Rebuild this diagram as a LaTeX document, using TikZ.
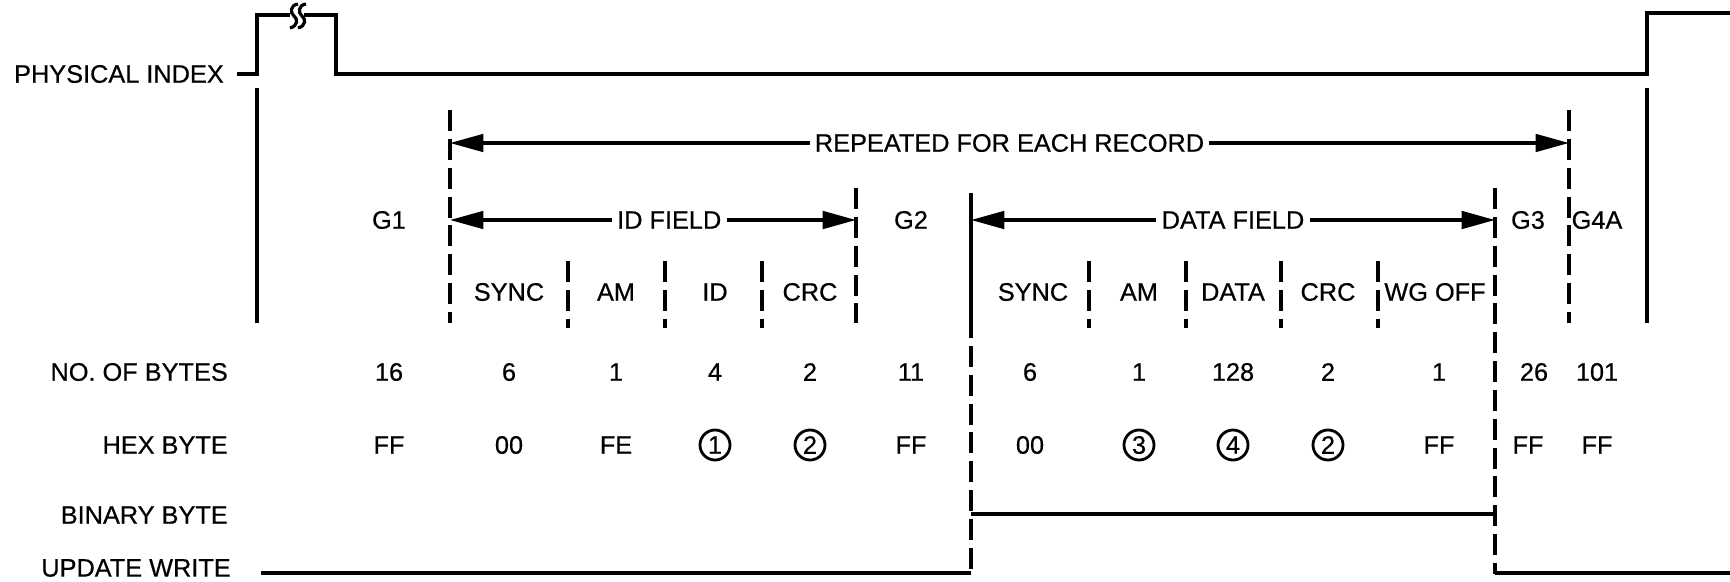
\documentclass[tikz,border=0pt]{standalone}
\usepackage{fontspec}
\setmainfont[FakeBold=0.5]{Liberation Sans}
\usetikzlibrary{arrows.meta,positioning}

\begin{document}
\begin{tikzpicture}[
  x=0.01cm,y=-0.01cm,
  every node/.style={font=\fontsize{7.2}{8.6}\selectfont,inner sep=1pt},
  wave/.style={line width=1.3pt},
  edge/.style={line width=1pt},
  fence/.style={line width=1pt,dash pattern=on 6pt off 2.2pt},
  span/.style={line width=0.9pt,{Triangle[length=9.5pt,width=5pt]}-{Triangle[length=9.5pt,width=5pt]}},
  gaplab/.style={fill=white,inner sep=1.5pt},
  rowlab/.style={anchor=east},
  ring/.style={draw,circle,line width=0.8pt,inner sep=0.5pt,minimum size=0.3cm}
]

\useasboundingbox (0,0) rectangle (1730,581);

% row names
\node[rowlab] (phys) at (228,74) {PHYSICAL INDEX};
\node[rowlab] (nbytes) at (232,372) {NO. OF BYTES};
\node[rowlab] (hex) at (232,445) {HEX BYTE};
\node[rowlab] (bin) at (232,515) {BINARY BYTE};
\node[rowlab] (upd) at (235,568) {UPDATE WRITE};

% physical index trace
\draw[wave] (237,74) -- (257,74) -- (257,15) -- (290,15)
  (304,15) -- (336,15) -- (336,74) -- (1647,74) -- (1647,13) -- (1730,13);
\draw[line width=0.9pt] (298,4) .. controls (290,5) and (290,13) .. (294,16)
  .. controls (298,19) and (298,26) .. (290,28);
\draw[line width=0.9pt] (306,4) .. controls (298,5) and (298,13) .. (302,16)
  .. controls (306,19) and (306,26) .. (298,28);

% index edges
\draw[edge] (257,88) -- (257,323);
\draw[edge] (1647,88) -- (1647,323);

% field boundaries
\draw[fence] (450,110) -- (450,323);
\draw[fence] (1569,110) -- (1569,323);
\draw[fence] (856,188) -- (856,323);
\draw[edge] (971,193) -- (971,317);
\draw[fence] (971,317) -- (971,574);
\draw[fence] (1495,188) -- (1495,574);

\draw[fence] (568,261) -- (568,328);
\draw[fence] (665,261) -- (665,328);
\draw[fence] (762,261) -- (762,328);
\draw[fence] (1089,261) -- (1089,328);
\draw[fence] (1186,261) -- (1186,328);
\draw[fence] (1281,261) -- (1281,328);
\draw[fence] (1378,261) -- (1378,328);

% span arrows
\coordinate (recL) at (450,143);
\coordinate (recR) at (1569,143);
\coordinate (idL) at (450,220);
\coordinate (idR) at (856,220);
\coordinate (datL) at (971,220);
\coordinate (datR) at (1495,220);

\draw[span] (recL) -- node[gaplab] {REPEATED FOR EACH RECORD} (recR);
\draw[span] (idL) -- node[gaplab,pos=0.54] {ID FIELD} (idR);
\draw[span] (datL) -- node[gaplab] {DATA FIELD} (datR);

% gaps
\node (g1) at (389,220) {G1};
\node (g2) at (911,220) {G2};
\node (g3) at (1528,220) {G3};
\node (g4a) at (1597,220) {G4A};

% sub fields
\node (idsync) at (509,292) {SYNC};
\node (idam) at (616,292) {AM};
\node (idid) at (715,292) {ID};
\node (idcrc) at (810,292) {CRC};
\node (dsync) at (1033,292) {SYNC};
\node (dam) at (1139,292) {AM};
\node (ddata) at (1233,292) {DATA};
\node (dcrc) at (1328,292) {CRC};
\node (dwg) at (1435,292) {WG OFF};

% byte counts
\node (n1) at (389,372) {16};
\node (n2) at (509,372) {6};
\node (n3) at (616,372) {1};
\node (n4) at (715,372) {4};
\node (n5) at (810,372) {2};
\node (n6) at (911,372) {11};
\node (n7) at (1030,372) {6};
\node (n8) at (1139,372) {1};
\node (n9) at (1233,372) {128};
\node (n10) at (1328,372) {2};
\node (n11) at (1439,372) {1};
\node (n12) at (1534,372) {26};
\node (n13) at (1597,372) {101};

% hex values
\node (h1) at (389,445) {FF};
\node (h2) at (509,445) {00};
\node (h3) at (616,445) {FE};
\node[ring] (h4) at (715,445) {1};
\node[ring] (h5) at (810,445) {2};
\node (h6) at (911,445) {FF};
\node (h7) at (1030,445) {00};
\node[ring] (h8) at (1139,445) {3};
\node[ring] (h9) at (1233,445) {4};
\node[ring] (h10) at (1328,445) {2};
\node (h11) at (1439,445) {FF};
\node (h12) at (1528,445) {FF};
\node (h13) at (1597,445) {FF};

% binary byte and update write
\draw[wave] (971,514) -- (1495,514);
\draw[wave] (261,573) -- (971,573);
\draw[wave] (1495,573) -- (1730,573);

\end{tikzpicture}
\end{document}
